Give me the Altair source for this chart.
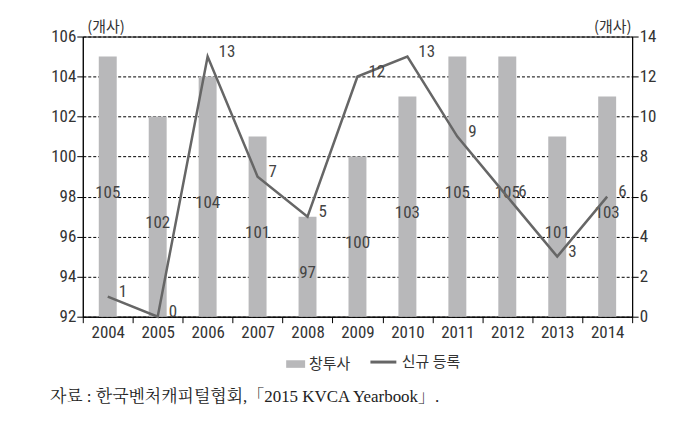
import altair as alt
import pandas as pd

years = ["2004", "2005", "2006", "2007", "2008", "2009", "2010", "2011", "2012", "2013", "2014"]
changtusa = [105, 102, 104, 101, 97, 100, 103, 105, 105, 101, 103]
sinkyu = [1, 0, 13, 7, 5, 12, 13, 9, 6, 3, 6]
left_ticks = [92, 94, 96, 98, 100, 102, 104, 106]
right_ticks = [0, 2, 4, 6, 8, 10, 12, 14]

df = pd.DataFrame({"year": years, "창투사": changtusa, "신규 등록": sinkyu})

NUM_FONT = "Liberation Sans Narrow, Roboto Condensed, Liberation Sans"
KR_FONT = "Noto Sans CJK KR"

x_enc = alt.X("year:N", title=None, sort=years,
              scale=alt.Scale(paddingInner=0, paddingOuter=0),
              axis=alt.Axis(labelAngle=0, tickBand="extent", tickSize=6,
                            tickColor="black", domainColor="black",
                            labelFont=NUM_FONT, labelFontSize=17,
                            labelColor="#333", labelPadding=2))

left_axis = alt.Axis(values=left_ticks, grid=True, gridColor="black",
                     gridDash=[3, 2], gridWidth=1, tickSize=6,
                     tickColor="black", domainColor="black",
                     labelFont=NUM_FONT, labelFontSize=17, labelColor="#333",
                     labelPadding=1, title="(개사)", titleAngle=0,
                     titleAlign="left", titleBaseline="middle",
                     titleX=4, titleY=-10, titleFont=KR_FONT,
                     titleFontSize=15, titleFontWeight="normal",
                     titleColor="#333", orient="left")
left_scale = alt.Scale(domain=[92, 106], zero=False, nice=False)

right_axis = alt.Axis(values=right_ticks, grid=False, tickSize=6,
                      tickColor="black", domainColor="black",
                      labelFont=NUM_FONT, labelFontSize=17, labelColor="#333",
                      labelPadding=1, title="(개사)", titleAngle=0,
                      titleAlign="right", titleBaseline="middle",
                      titleX=-1, titleY=-10, titleFont=KR_FONT,
                      titleFontSize=15, titleFontWeight="normal",
                      titleColor="#333", orient="right")
right_scale = alt.Scale(domain=[0, 14], nice=False)

bars = alt.Chart(df).mark_bar(size=18, color="#b8b8ba").encode(
    x=x_enc,
    y=alt.Y("창투사:Q", scale=left_scale, axis=left_axis),
    y2=alt.Y2(datum=92),
    fill=alt.Fill("s1:N", scale=alt.Scale(domain=["창투사"], range=["#b8b8ba"]),
                  legend=alt.Legend(title=None, orient="none", legendX=204,
                                    legendY=319, labelFont=KR_FONT,
                                    labelFontSize=15, labelColor="#333",
                                    symbolType="M-1,-0.4L1,-0.4L1,0.4L-1,0.4Z",
                                    symbolSize=361, symbolStrokeWidth=0,
                                    labelOffset=4)),
).transform_calculate(s1="'창투사'")

bar_text = alt.Chart(df).mark_text(font=NUM_FONT, fontSize=17, color="#444").encode(
    x=alt.X("year:N", sort=years),
    y=alt.Y("lab_y:Q", scale=left_scale, axis=left_axis),
    text=alt.Text("창투사:Q"),
).transform_calculate(lab_y="datum['창투사'] / 2 + 45.7")

line = alt.Chart(df).mark_line(color="#666", strokeWidth=2.5).encode(
    x=alt.X("year:N", sort=years),
    y=alt.Y("신규 등록:Q", scale=right_scale, axis=right_axis),
    stroke=alt.Stroke("s2:N", scale=alt.Scale(domain=["신규 등록"], range=["#666"]),
                      legend=alt.Legend(title=None, orient="none", legendX=287,
                                        legendY=312, labelFont=KR_FONT,
                                        labelFontSize=15, labelColor="#333",
                                        symbolType="stroke", symbolSize=676,
                                        symbolStrokeWidth=3, labelOffset=4)),
).transform_calculate(s2="'신규 등록'")

line_text = alt.Chart(df).mark_text(font=NUM_FONT, fontSize=17, color="#444",
                                    align="left", baseline="middle", dx=11, dy=-5).encode(
    x=alt.X("year:N", sort=years),
    y=alt.Y("신규 등록:Q", scale=right_scale, axis=right_axis),
    text=alt.Text("신규 등록:Q"),
)

chart = alt.layer(
    alt.layer(bars, bar_text),
    alt.layer(line, line_text),
).resolve_scale(y="independent", fill="independent", stroke="independent").properties(
    width=551, height=281,
    autosize=alt.AutoSizeParams(type="none"),
    padding={"left": 75, "top": 28, "right": 50, "bottom": 100},
    title=alt.TitleParams(
        "자료 : 한국벤처캐피털협회,「2015 KVCA Yearbook」.",
        orient="bottom", anchor="start", frame="group", dx=-33, offset=17,
        font="Liberation Serif, Noto Serif CJK KR, Noto Sans CJK KR",
        fontSize=17, fontWeight="normal", color="#222"),
).configure_view(stroke="black", strokeWidth=1)

chart.save("out.html", embed_options={"renderer": "svg", "actions": False})
